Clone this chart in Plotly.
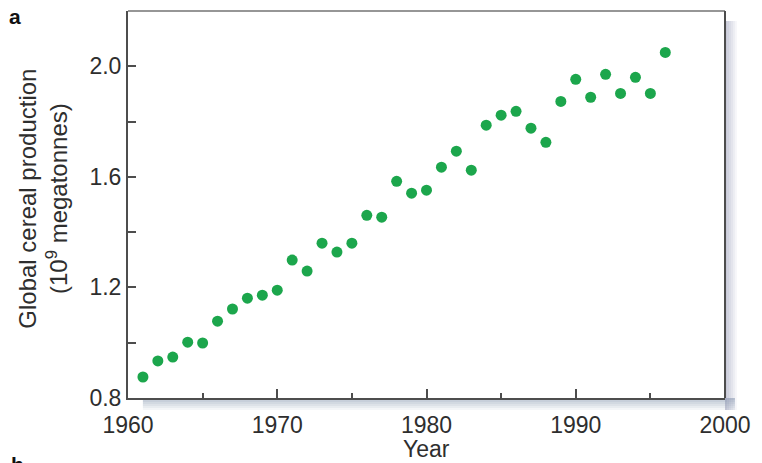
import plotly.graph_objects as go

# Global cereal production, 1961-1996 (10^9 megatonnes)
years = list(range(1961, 1997))
production = [
    0.876, 0.934, 0.948, 1.002, 0.999, 1.078, 1.122, 1.161, 1.172, 1.190,
    1.299, 1.259, 1.360, 1.328, 1.360, 1.461, 1.454, 1.584, 1.541, 1.552,
    1.635, 1.693, 1.624, 1.787, 1.823, 1.837, 1.776, 1.725, 1.873, 1.953,
    1.888, 1.971, 1.902, 1.960, 1.902, 2.050,
]

x_ticks = [1960, 1970, 1980, 1990, 2000]
y_ticks = [0.8, 1.2, 1.6, 2.0]

W, H = 762, 463
ML, MR, MT, MB = 128, 32, 11, 65
PW, PH = W - ML - MR, H - MT - MB

FONT = "Liberation Sans, Arial, Helvetica, sans-serif"
AXIS_COLOR = "#4d4d4d"
TEXT_COLOR = "#2e2e2e"


def px_x(p):
    """Horizontal page pixel -> paper coordinate."""
    return (p - ML) / PW


def px_y(p):
    """Vertical page pixel (from top) -> paper coordinate."""
    return (H - MB - p) / PH


fig = go.Figure()
fig.add_trace(go.Scatter(
    x=years, y=production, mode="markers",
    marker=dict(size=11, color="#1ca64c", line=dict(width=0)),
    hoverinfo="x+y", showlegend=False,
))

# soft blue-grey drop shadow under the bottom and right edges of the frame
shapes = []
steps = 6
for i in range(steps):
    alpha = 0.5 * (1 - i / steps)
    shapes.append(dict(
        type="rect", xref="paper", yref="paper", layer="below",
        x0=15 / PW, x1=(PW + 10) / PW,
        y0=-(2 * i + 2) / PH, y1=-(2 * i) / PH,
        fillcolor=f"rgba(120,140,165,{alpha:.3f})", line=dict(width=0),
    ))
    shapes.append(dict(
        type="rect", xref="paper", yref="paper", layer="below",
        x0=(PW + 2 * i) / PW, x1=(PW + 2 * i + 2) / PW,
        y0=-12 / PH, y1=(PH - 10) / PH,
        fillcolor=f"rgba(145,148,178,{alpha:.3f})", line=dict(width=0),
    ))
# top and right frame lines
shapes.append(dict(type="line", xref="paper", yref="paper", x0=0, x1=1, y0=1, y1=1,
                   line=dict(color="#737373", width=1.5)))
shapes.append(dict(type="line", xref="paper", yref="paper", x0=1, x1=1, y0=0, y1=1,
                   line=dict(color=AXIS_COLOR, width=2)))

annotations = [
    dict(text="<b>a</b>", xref="paper", yref="paper",
         x=px_x(6), y=px_y(3), xanchor="left", yanchor="top",
         showarrow=False, font=dict(family=FONT, size=21, color="#111")),
    dict(text="<b>b</b>", xref="paper", yref="paper",
         x=px_x(8), y=px_y(451), xanchor="left", yanchor="top",
         showarrow=False, font=dict(family=FONT, size=21, color="#111")),
    dict(text="Global cereal production<br>(10<sup>9</sup> megatonnes)",
         xref="paper", yref="paper", x=px_x(42), y=px_y(199),
         xanchor="center", yanchor="middle", textangle=-90, showarrow=False,
         font=dict(family=FONT, size=24, color=TEXT_COLOR)),
    dict(text="Year", xref="paper", yref="paper", x=px_x(429), y=px_y(449),
         xanchor="center", yanchor="middle", showarrow=False,
         font=dict(family=FONT, size=23, color=TEXT_COLOR)),
]

fig.update_layout(
    width=W, height=H,
    margin=dict(l=ML, r=MR, t=MT, b=MB, pad=0),
    paper_bgcolor="white", plot_bgcolor="white",
    font=dict(family=FONT, color=TEXT_COLOR, size=22),
    shapes=shapes, annotations=annotations,
    xaxis=dict(
        range=[1960, 2000], tickmode="array", tickvals=x_ticks,
        ticktext=[str(v) for v in x_ticks],
        ticks="inside", ticklen=9, tickwidth=1.5, tickcolor=AXIS_COLOR,
        minor=dict(ticks="inside", dtick=5, tick0=1960, ticklen=5,
                   tickwidth=1.5, tickcolor=AXIS_COLOR),
        showline=True, linecolor=AXIS_COLOR, linewidth=2,
        showgrid=False, zeroline=False, fixedrange=True,
        ticklabelstandoff=5,
        tickfont=dict(size=23, color=TEXT_COLOR),
    ),
    yaxis=dict(
        range=[0.8, 2.2], tickmode="array", tickvals=y_ticks,
        ticktext=[f"{v:.1f}" for v in y_ticks],
        ticks="inside", ticklen=8, tickwidth=1.5, tickcolor=AXIS_COLOR,
        minor=dict(ticks="inside", dtick=0.2, tick0=0.8, ticklen=8,
                   tickwidth=1.5, tickcolor=AXIS_COLOR),
        showline=True, linecolor=AXIS_COLOR, linewidth=2,
        showgrid=False, zeroline=False, fixedrange=True,
        tickfont=dict(size=23, color=TEXT_COLOR),
    ),
)

fig.write_html("out.html")
